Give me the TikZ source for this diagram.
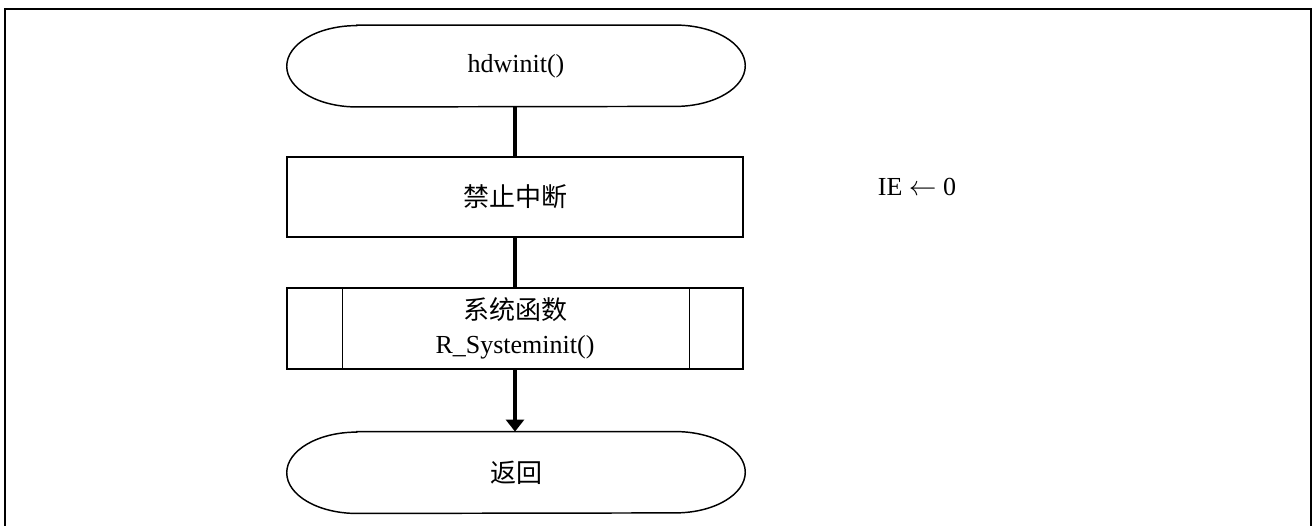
\documentclass[tikz,border=0pt]{standalone}
\usepackage{fontspec}
\setmainfont{Liberation Serif}
\newfontfamily\cjk{Noto Sans CJK SC}
\usetikzlibrary{arrows.meta,calc}
\begin{document}
\begin{tikzpicture}[x=0.75pt,y=-0.75pt,
  every node/.style={font=\fontsize{19.5}{25.5}\selectfont, inner sep=0pt},
  procbox/.style={draw, line width=1.1pt, minimum width=342pt, minimum height=60pt, align=center},
  termbox/.style={minimum width=343.5pt, minimum height=61pt},
  termline/.style={line width=1.1pt},
  flow/.style={line width=3pt},
  frameline/.style={line width=1.5pt}]
\useasboundingbox (0,0) rectangle (1312,525);
\draw[frameline] (5,530) -- (5,9) -- (1311,9) -- (1311,530);

\node[termbox] (start) at (516,66) {hdwinit()};
\draw[termline] ($(start.north west)+(70,0)$) -- ($(start.north east)+(-70,0)$)
  arc[start angle=90, end angle=-90, x radius=52.5pt, y radius=30.5pt]
  -- ($(start.south west)+(70,0)$)
  arc[start angle=270, end angle=90, x radius=52.5pt, y radius=30.5pt] -- cycle;

\node[procbox] (p1) at (515,197) {\cjk 禁止中断};

\node[procbox, minimum height=60.75pt] (sub) at (515,328.5) {{\cjk 系统函数}\\R\_Systeminit()};
\draw[termline] ($(sub.north west)+(56,0)$) -- ($(sub.south west)+(56,0)$);
\draw[termline] ($(sub.north east)+(-54,0)$) -- ($(sub.south east)+(-54,0)$);

\node[termbox] (fin) at (516,472.5) {\cjk 返回};
\draw[termline] ($(fin.north west)+(70,0)$) -- ($(fin.north east)+(-70,0)$)
  arc[start angle=90, end angle=-90, x radius=52.5pt, y radius=30.5pt]
  -- ($(fin.south west)+(70,0)$)
  arc[start angle=270, end angle=90, x radius=52.5pt, y radius=30.5pt] -- cycle;

\node (ie) at (917,187) {IE $\leftarrow$ 0};

\draw[flow] (start.south -| p1.north) -- (p1.north);
\draw[flow] (p1.south) -- (sub.north);
\draw[flow, -{Triangle[width=13.5pt,length=9pt]}] (sub.south) -- (sub.south |- fin.north);
\end{tikzpicture}
\end{document}
